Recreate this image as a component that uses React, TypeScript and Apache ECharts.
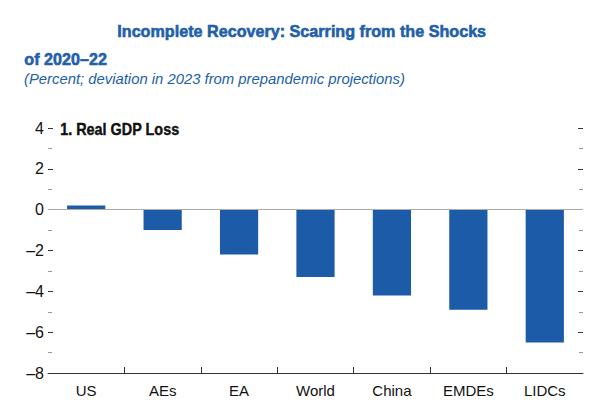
import React, { useEffect, useRef } from "react";
import * as echarts from "echarts";

const categories = ["US", "AEs", "EA", "World", "China", "EMDEs", "LIDCs"];
const gdpLoss = [0.2, -1.0, -2.2, -3.3, -4.2, -4.9, -6.5];
const yMin = -8;
const yMax = 4;
const yStep = 2;

const FONT = "'Liberation Sans', Arial, sans-serif";
const BLUE = "#1b5ba7";
const TITLE_BLUE = "#2160a8";

export default function App() {
  const ref = useRef<HTMLDivElement>(null);
  useEffect(() => {
    document.body.style.margin = "0";
    if (!ref.current) return;
    const chart = echarts.init(ref.current, undefined, { renderer: "svg" });
    const dash = (v: number) => (v < 0 ? "\u2013" + Math.abs(v) : String(v));
    const boundaries = Array.from({ length: categories.length + 1 }, (_, i) => String(i));
    const yBase = {
      type: "value",
      min: yMin,
      max: yMax,
      interval: yStep,
      splitLine: { show: false },
      axisLine: { show: false },
    };
    chart.setOption({
      animation: false,
      backgroundColor: "#ffffff",
      graphic: [
        {
          type: "text",
          left: 117,
          top: 23,
          scaleX: 0.95,
          style: {
            text: "Incomplete Recovery: Scarring from the Shocks",
            font: `bold 17px ${FONT}`,
            fill: TITLE_BLUE,
            stroke: TITLE_BLUE,
            lineWidth: 0.6,
          },
        },
        {
          type: "text",
          left: 24,
          top: 51,
          scaleX: 0.95,
          style: {
            text: "of 2020\u201322",
            font: `bold 17px ${FONT}`,
            fill: TITLE_BLUE,
            stroke: TITLE_BLUE,
            lineWidth: 0.6,
          },
        },
        {
          type: "text",
          left: 24,
          top: 71,
          scaleX: 0.99,
          style: {
            text: "(Percent; deviation in 2023 from prepandemic projections)",
            font: `italic 15px ${FONT}`,
            fill: TITLE_BLUE,
          },
        },
        {
          type: "text",
          left: 60,
          top: 121,
          scaleX: 0.9,
          style: {
            text: "1. Real GDP Loss",
            font: `bold 16px ${FONT}`,
            fill: "#111",
            stroke: "#111",
            lineWidth: 0.4,
          },
        },
      ],
      grid: { left: 48, right: 17, top: 128, bottom: 44 },
      xAxis: [
        {
          type: "category",
          data: categories,
          position: "bottom",
          axisLine: { onZero: false, lineStyle: { color: "#333", width: 1 } },
          axisTick: { show: false },
          axisLabel: { color: "#111", fontSize: 15, fontFamily: FONT, margin: 10 },
        },
        {
          type: "category",
          data: boundaries,
          position: "bottom",
          offset: 0,
          boundaryGap: false,
          axisLine: { show: false, onZero: false },
          axisLabel: { show: false },
          axisTick: {
            show: true,
            inside: true,
            length: 6,
            lineStyle: { color: "#333" },
            interval: (i: number) => i > 0 && i < categories.length,
          },
        },
      ],
      yAxis: [
        {
          ...yBase,
          position: "left",
          axisTick: { show: true, inside: true, length: 5, lineStyle: { color: "#333" } },
          minorTick: { show: true, splitNumber: 2, length: 4, lineStyle: { color: "#999" } },
          axisLabel: {
            color: "#111",
            fontSize: 16,
            fontFamily: FONT,
            margin: 4,
            formatter: (v: number) => dash(v),
          },
        },
        {
          ...yBase,
          position: "right",
          axisTick: { show: true, inside: true, length: 5, lineStyle: { color: "#333" } },
          minorTick: { show: true, splitNumber: 2, length: 4, lineStyle: { color: "#999" } },
          axisLabel: { show: false },
        },
      ],
      series: [
        {
          type: "bar",
          data: gdpLoss,
          xAxisIndex: 0,
          yAxisIndex: 0,
          barWidth: "50%",
          itemStyle: { color: BLUE },
          markLine: {
            silent: true,
            symbol: "none",
            label: { show: false },
            lineStyle: { color: "#aaa", width: 1, type: "solid" },
            data: [{ yAxis: 0 }],
          },
        },
      ],
    });
    return () => chart.dispose();
  }, []);
  return <div ref={ref} style={{ width: 600, height: 417 }} />;
}
